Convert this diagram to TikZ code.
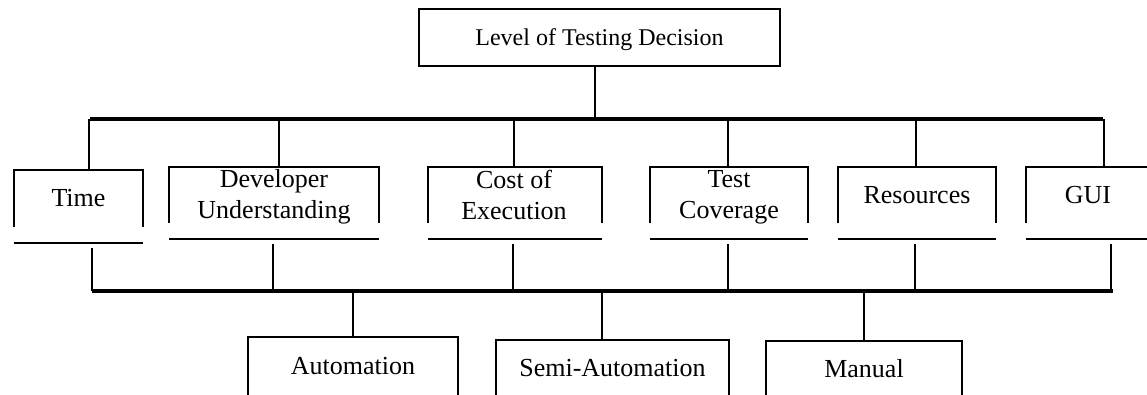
\documentclass[tikz,border=0pt]{standalone}
\usepackage{fontspec}
\setmainfont{Liberation Serif}
\newcommand\twolines[2]{\begin{tabular}[t]{@{}c@{}}#1\\#2\end{tabular}}
\begin{document}
\begin{tikzpicture}[x=1pt,y=-1pt,
  frame/.style={line width=2pt},
  bus/.style={line width=4pt},
  area/.style={inner sep=0pt, outer sep=0pt, align=center,
    font=\fontsize{26}{31}\selectfont},
  lbl/.style={inner sep=0pt, anchor=base, font=\fontsize{26}{31}\selectfont},
  topbox/.style={draw, line width=2.4pt, inner sep=0pt,
    minimum width=361pt, minimum height=57pt,
    font=\fontsize{24}{29}\selectfont, text height=18pt, text depth=3pt}]
\useasboundingbox (0,0) rectangle (1147,394);

% top decision box
\node[topbox] (top) at (599.5,37.5) {Level of Testing Decision};

% buses
\coordinate (tbl) at (90,119);
\coordinate (tbr) at (1103,119);
\coordinate (bbl) at (92,291);
\coordinate (bbr) at (1113,291);
\draw[bus] (tbl) -- (tbr);
\draw[bus] (bbl) -- (bbr);
\draw[frame] ([xshift=-4.5pt]top.south) -- ([xshift=-4.5pt]top.south |- tbl);

% factor boxes (open at the bottom, separate base line)
\node[area, minimum width=129pt, minimum height=57pt] (time) at (78.5,198.5) {Time};
\node[area, minimum width=210pt, minimum height=56pt] (dev)  at (274,195) {};
\node[area, minimum width=174pt, minimum height=56pt] (cost) at (515,195) {};
\node[area, minimum width=158pt, minimum height=56pt] (test) at (729,195) {};
\node[area, minimum width=158pt, minimum height=56pt] (res)  at (917,195) {Resources};
\node[area, minimum width=124pt, minimum height=56pt] (gui)  at (1088,195) {GUI};
\node[lbl] (devl)  at (274,187) {\twolines{Developer}{Understanding}};
\node[lbl] (costl) at (514,188) {\twolines{Cost of}{Execution}};
\node[lbl] (testl) at (729,187) {\twolines{Test}{Coverage}};

\foreach \n in {time,dev,cost,test,res}{
  \draw[frame] (\n.south west) -- (\n.north west) -- (\n.north east) -- (\n.south east);
  \draw[frame] ([yshift=-16pt]\n.south west) -- ([yshift=-16pt]\n.south east);
}
\draw[frame] (gui.south west) -- (gui.north west) -- (gui.north east);
\draw[frame] ([yshift=-16pt]gui.south west) -- ([yshift=-16pt]gui.south east);

% connectors from top bus to factors
\foreach \n/\s in {time/10.5,dev/5,cost/-1,test/-1,res/-1,gui/16}{
  \draw[frame] ([xshift=\s pt]\n.north) -- ([xshift=\s pt]\n.north |- tbl);
}
% connectors from factors to bottom bus
\foreach \n/\s in {time/13.5,dev/-1,cost/-2,test/-1,res/-2,gui/23}{
  \draw[frame] ([xshift=\s pt,yshift=-21pt]\n.south) -- ([xshift=\s pt]\n.south |- bbl);
}

% outcome boxes (cut by the lower edge)
\node[area, minimum width=210pt, minimum height=58.4pt] (auto) at (353,366.2) {Automation};
\node[area, minimum width=233pt, minimum height=56.4pt] (semi) at (612.5,368.2) {Semi-Automation};
\node[area, minimum width=196pt, minimum height=54.2pt] (man)  at (864,368.1) {Manual};
\foreach \n/\s in {auto/0,semi/-10.5,man/0}{
  \draw[frame] (\n.south west) -- (\n.north west) -- (\n.north east) -- (\n.south east);
  \draw[frame] ([xshift=\s pt]\n.north) -- ([xshift=\s pt]\n.north |- bbl);
}
\end{tikzpicture}
\end{document}
